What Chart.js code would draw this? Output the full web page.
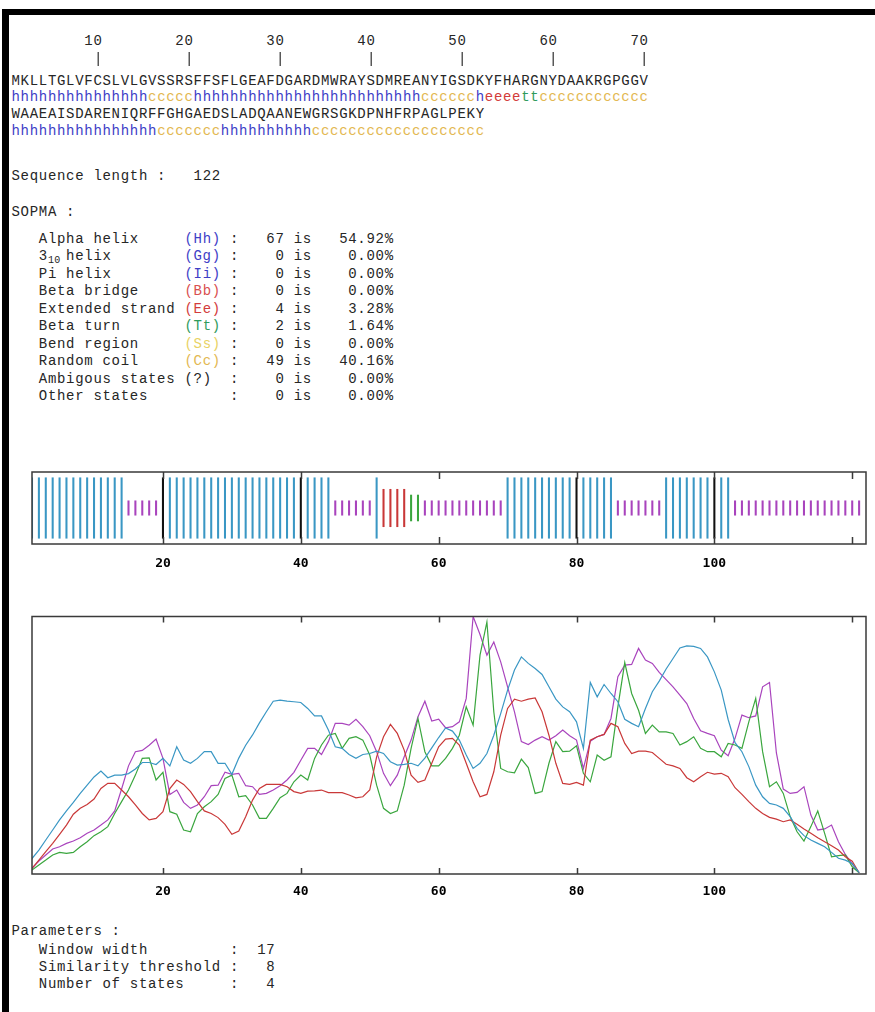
<!DOCTYPE html>
<html lang="en">
<head>
<meta charset="utf-8">
<title>SOPMA result</title>
<script src="https://cdn.jsdelivr.net/npm/chart.js@4.4.1/dist/chart.umd.min.js"></script>
<style>
  html, body { margin: 0; padding: 0; background: #fff; }
  #page { position: relative; width: 875px; height: 1012px; overflow: hidden; }
  .edge { position: absolute; background: #000; }
  .ln {
    position: absolute; left: 11.5px; margin: 0; white-space: pre;
    font-family: "Liberation Mono", "DejaVu Sans Mono", monospace;
    font-size: 14px; letter-spacing: 0.7px; line-height: 17px; color: #262626;
  }
  #rulerBars { will-change: transform; }
  .sub { display: inline-block; width: 18.2px; font-size: 10px; letter-spacing: 0.3px; position: relative; top: 3px; }
  .H { color: #3e3ec6; } .B { color: #d9504f; } .E { color: #d33c3c; }
  .T { color: #2f9b5c; } .S { color: #e8d264; } .C { color: #e3b852; }
  canvas { position: absolute; left: 0; }
</style>
</head>
<body>
<div id="page">
  <div class="edge" style="left:2px;top:9px;width:873px;height:6px"></div>
  <div class="edge" style="left:2px;top:9px;width:7px;height:1003px"></div>

  <div class="ln" id="ruler" style="top:32.8px"></div>
  <div class="ln" id="rulerBars" style="top:50.8px"></div>
  <div class="ln" id="seq1" style="top:72.5px"></div>
  <div class="ln" id="str1" style="top:89.1px"></div>
  <div class="ln" id="seq2" style="top:105.8px"></div>
  <div class="ln" id="str2" style="top:122.5px"></div>

  <div class="ln" style="top:167.8px">Sequence length :   122</div>
  <div class="ln" style="top:204.3px">SOPMA :</div>
  <div class="ln" style="top:230.8px">   Alpha helix     <span class="H">(Hh)</span> :   67 is   54.92%</div>
  <div class="ln" style="top:248.3px">   3<span class="sub">10</span>helix        <span class="H">(Gg)</span> :    0 is    0.00%</div>
  <div class="ln" style="top:265.8px">   Pi helix        <span class="H">(Ii)</span> :    0 is    0.00%</div>
  <div class="ln" style="top:283.3px">   Beta bridge     <span class="B">(Bb)</span> :    0 is    0.00%</div>
  <div class="ln" style="top:300.8px">   Extended strand <span class="E">(Ee)</span> :    4 is    3.28%</div>
  <div class="ln" style="top:318.3px">   Beta turn       <span class="T">(Tt)</span> :    2 is    1.64%</div>
  <div class="ln" style="top:335.8px">   Bend region     <span class="S">(Ss)</span> :    0 is    0.00%</div>
  <div class="ln" style="top:353.3px">   Random coil     <span class="C">(Cc)</span> :   49 is   40.16%</div>
  <div class="ln" style="top:370.8px">   Ambigous states (?)  :    0 is    0.00%</div>
  <div class="ln" style="top:388.3px">   Other states         :    0 is    0.00%</div>

  <canvas id="bars" width="875" height="110" style="top:462px"></canvas>
  <canvas id="profile" width="875" height="300" style="top:606px"></canvas>

  <div class="ln" style="top:922.8px">Parameters :</div>
  <div class="ln" style="top:941.8px">   Window width         :  17</div>
  <div class="ln" style="top:959.3px">   Similarity threshold :   8</div>
  <div class="ln" style="top:976.3px">   Number of states     :   4</div>
</div>

<script>
  // protein sequence and SOPMA prediction (runs of h/c/e/t)
  const sequence = 'MKLLTGLVFCSLVLGVSSRSFFSFLGEAFDGARDMWRAYSDMREANYIGSDKYFHARGNYDAAKRGPGGV' +
    'WAAEAISDARENIQRFFGHGAEDSLADQAANEWGRSGKDPNHFRPAGLPEKY';
  const structureRuns = [
    ['h', 15], ['c', 5], ['h', 25], ['c', 6], ['h', 1], ['e', 4], ['t', 2], ['c', 12],
    ['h', 16], ['c', 7], ['h', 10], ['c', 19]
  ];
  const rulerNumbers = [10, 20, 30, 40, 50, 60, 70];

  // score profiles, one value per residue (residue 1 first)
  const helixScore = [
    0.03, 0.06, 0.093, 0.132, 0.171, 0.21, 0.245, 0.278, 0.313, 0.345, 0.377,
    0.40, 0.374, 0.384, 0.384, 0.39, 0.408, 0.433, 0.433, 0.425, 0.449,
    0.42, 0.494, 0.443, 0.43, 0.449, 0.475, 0.475, 0.43, 0.43, 0.387,
    0.45, 0.50, 0.54, 0.587, 0.63, 0.671, 0.675, 0.671, 0.669, 0.666,
    0.643, 0.614, 0.614, 0.559, 0.494, 0.488, 0.464, 0.449, 0.464, 0.468,
    0.477, 0.468, 0.436, 0.423, 0.426, 0.43, 0.42, 0.45, 0.49, 0.53,
    0.567, 0.555, 0.52, 0.462, 0.41, 0.43, 0.468, 0.539, 0.623, 0.714,
    0.792, 0.843, 0.818, 0.798, 0.775, 0.727, 0.679, 0.649, 0.63, 0.591,
    0.488, 0.744, 0.688, 0.736, 0.701, 0.669, 0.601, 0.585, 0.572, 0.643,
    0.708, 0.749, 0.796, 0.837, 0.878, 0.886, 0.884, 0.876, 0.843, 0.785,
    0.714, 0.60, 0.51, 0.475, 0.417, 0.345, 0.30, 0.274, 0.268, 0.255,
    0.223, 0.177, 0.149, 0.132, 0.119, 0.106, 0.084, 0.061, 0.054, 0.041, 0.005
  ];
  const strandScore = [
    0.0, 0.022, 0.054, 0.087, 0.119, 0.154, 0.19, 0.232, 0.255, 0.27, 0.291,
    0.332, 0.352, 0.352, 0.326, 0.30, 0.268, 0.235, 0.21, 0.216, 0.242,
    0.332, 0.365, 0.348, 0.32, 0.281, 0.245, 0.235, 0.219, 0.193, 0.154,
    0.167, 0.222, 0.287, 0.332, 0.348, 0.348, 0.348, 0.339, 0.32, 0.313,
    0.322, 0.323, 0.326, 0.316, 0.316, 0.316, 0.307, 0.296, 0.30, 0.326,
    0.455, 0.533, 0.581, 0.546, 0.481, 0.384, 0.356, 0.365, 0.43, 0.494,
    0.524, 0.527, 0.501, 0.43, 0.358, 0.30, 0.309, 0.397, 0.539, 0.643,
    0.679, 0.671, 0.679, 0.684, 0.63, 0.539, 0.43, 0.352, 0.348, 0.356,
    0.345, 0.52, 0.533, 0.542, 0.585, 0.572, 0.507, 0.468, 0.477, 0.477,
    0.472, 0.449, 0.426, 0.42, 0.41, 0.374, 0.358, 0.378, 0.395, 0.388,
    0.391, 0.378, 0.335, 0.309, 0.281, 0.255, 0.235, 0.22, 0.213, 0.203,
    0.21, 0.193, 0.175, 0.158, 0.141, 0.125, 0.11, 0.093, 0.067, 0.05, 0.005
  ];
  const turnScore = [
    0.0, 0.016, 0.035, 0.054, 0.074, 0.084, 0.08, 0.084, 0.106, 0.125, 0.149,
    0.164, 0.184, 0.235, 0.281, 0.326, 0.384, 0.449, 0.451, 0.365, 0.395,
    0.242, 0.232, 0.171, 0.164, 0.235, 0.261, 0.281, 0.309, 0.371, 0.384,
    0.30, 0.304, 0.268, 0.216, 0.216, 0.255, 0.296, 0.313, 0.358, 0.384,
    0.365, 0.449, 0.501, 0.539, 0.546, 0.488, 0.527, 0.533, 0.52, 0.462,
    0.345, 0.255, 0.235, 0.245, 0.345, 0.488, 0.604, 0.475, 0.42, 0.42,
    0.449, 0.488, 0.539, 0.649, 0.578, 0.85, 0.979, 0.63, 0.41, 0.397,
    0.393, 0.446, 0.413, 0.313, 0.32, 0.43, 0.514, 0.475, 0.477, 0.498,
    0.391, 0.358, 0.462, 0.442, 0.455, 0.649, 0.821, 0.701, 0.636, 0.546,
    0.578, 0.552, 0.552, 0.546, 0.501, 0.514, 0.533, 0.488, 0.475, 0.475,
    0.455, 0.507, 0.501, 0.488, 0.591, 0.682, 0.475, 0.339, 0.358, 0.313,
    0.223, 0.164, 0.128, 0.184, 0.245, 0.158, 0.067, 0.071, 0.074, 0.028, 0.005
  ];
  const coilScore = [
    0.0, 0.022, 0.05, 0.074, 0.097, 0.106, 0.119, 0.128, 0.141, 0.158, 0.171,
    0.19, 0.21, 0.245, 0.33, 0.42, 0.475, 0.48, 0.50, 0.524, 0.449,
    0.309, 0.326, 0.278, 0.255, 0.268, 0.30, 0.343, 0.345, 0.395, 0.387,
    0.391, 0.343, 0.339, 0.309, 0.313, 0.326, 0.343, 0.365, 0.395, 0.442,
    0.488, 0.488, 0.464, 0.514, 0.585, 0.585, 0.578, 0.601, 0.572, 0.537,
    0.475, 0.391, 0.343, 0.384, 0.455, 0.52, 0.611, 0.671, 0.594, 0.601,
    0.568, 0.572, 0.591, 0.682, 1.0, 0.93, 0.85, 0.901, 0.824, 0.727,
    0.63, 0.514, 0.503, 0.52, 0.533, 0.52, 0.537, 0.559, 0.537, 0.52,
    0.41, 0.516, 0.533, 0.542, 0.604, 0.766, 0.811, 0.814, 0.876, 0.831,
    0.818, 0.783, 0.755, 0.727, 0.695, 0.662, 0.604, 0.556, 0.546, 0.537,
    0.481, 0.459, 0.527, 0.617, 0.607, 0.614, 0.727, 0.744, 0.47, 0.33,
    0.313, 0.317, 0.339, 0.229, 0.171, 0.175, 0.19, 0.125, 0.076, 0.038, 0.005
  ];

  const tickValues = [20, 40, 60, 80, 100, 120];
  const tickLabels = ['20', '40', '60', '80', '100', ''];

  // styles
  const textColour = { h: '#3e3ec6', c: '#e3b852', e: '#d33c3c', t: '#2f9b5c' };
  const markColour = { h: '#3a97c4', e: '#c93838', t: '#3aa63e', c: '#a944bd' };
  const markHalfHeight = { h: 0.84, e: 0.52, t: 0.36, c: 0.2 };

  const structure = structureRuns.map(([s, n]) => s.repeat(n)).join('');

  // text part
  function colourRuns(str) {
    let html = '';
    let i = 0;
    while (i < str.length) {
      let j = i;
      while (j < str.length && str[j] === str[i]) j++;
      html += '<span style="color:' + textColour[str[i]] + '">' + str.slice(i, j) + '</span>';
      i = j;
    }
    return html;
  }
  document.getElementById('ruler').textContent = rulerNumbers.map(n => String(n).padStart(10)).join('');
  document.getElementById('rulerBars').textContent = rulerNumbers.map(() => '|'.padStart(10)).join('');
  document.getElementById('seq1').textContent = sequence.slice(0, 70);
  document.getElementById('seq2').textContent = sequence.slice(70);
  document.getElementById('str1').innerHTML = colourRuns(structure.slice(0, 70));
  document.getElementById('str2').innerHTML = colourRuns(structure.slice(70));

  // frame + inward ticks
  const framePlugin = {
    id: 'frame',
    afterDraw(chart, args, opts) {
      const { ctx, chartArea: a } = chart;
      const x = chart.scales.x;
      ctx.save();
      ctx.strokeStyle = '#3a3a3a';
      ctx.lineWidth = 1.5;
      ctx.strokeRect(a.left, a.top, a.right - a.left, a.bottom - a.top);
      x.ticks.forEach(t => {
        const px = Math.round(x.getPixelForValue(t.value)) + 0.5;
        ctx.beginPath();
        ctx.moveTo(px, a.top);
        ctx.lineTo(px, a.top + opts.tickLen);
        ctx.moveTo(px, a.bottom);
        ctx.lineTo(px, a.bottom - opts.tickLen);
        ctx.stroke();
      });
      ctx.restore();
    }
  };

  function xAxis(height, padding) {
    return {
      type: 'linear',
      min: 1,
      max: 122,
      offset: false,
      grid: { display: false, drawTicks: false, offset: false },
      border: { display: false },
      afterBuildTicks: scale => { scale.ticks = tickValues.map(v => ({ value: v })); },
      afterFit: scale => { scale.height = height; },
      ticks: {
        autoSkip: false,
        maxRotation: 0,
        padding: padding,
        color: '#000',
        font: { family: 'DejaVu Sans Mono', size: 13, weight: 'bold' },
        callback: v => tickLabels[tickValues.indexOf(v)]
      }
    };
  }

  // structure bars
  const states = ['h', 'e', 't', 'c'];
  new Chart(document.getElementById('bars'), {
    type: 'bar',
    data: {
      datasets: states.map(s => ({
        label: s,
        data: structure.split('').map((ch, i) => ch === s ? { x: i, y: [-markHalfHeight[s], markHalfHeight[s]] } : null)
          .filter(Boolean),
        backgroundColor: ctx => (s === 'h' && ctx.raw && tickValues.includes(ctx.raw.x)) ? '#111' : markColour[s],
        barThickness: 1.4,
        grouped: false,
        borderWidth: 0
      }))
    },
    options: {
      responsive: false,
      animation: false,
      devicePixelRatio: 1,
      layout: { padding: { left: 32, right: 9, top: 10, bottom: 0 } },
      plugins: { legend: { display: false }, tooltip: { enabled: false }, frame: { tickLen: 7 } },
      scales: {
        x: xAxis(28, 11.5),
        y: { display: false, min: -1, max: 1 }
      }
    },
    plugins: [framePlugin]
  });

  // score profiles
  const profiles = [
    { name: 'helix', values: helixScore, colour: markColour.h },
    { name: 'strand', values: strandScore, colour: markColour.e },
    { name: 'turn', values: turnScore, colour: markColour.t },
    { name: 'coil', values: coilScore, colour: markColour.c }
  ];
  new Chart(document.getElementById('profile'), {
    type: 'line',
    data: {
      datasets: profiles.map(p => ({
        label: p.name,
        data: p.values.map((v, i) => ({ x: i, y: v })),
        borderColor: p.colour,
        borderWidth: 1.2,
        pointRadius: 0,
        tension: 0,
        fill: false
      }))
    },
    options: {
      responsive: false,
      animation: false,
      devicePixelRatio: 1,
      layout: { padding: { left: 32, right: 9, top: 10.5, bottom: 0 } },
      plugins: { legend: { display: false }, tooltip: { enabled: false }, frame: { tickLen: 6 } },
      scales: {
        x: xAxis(32, 9.7),
        y: { display: false, min: 0, max: 1 }
      }
    },
    plugins: [framePlugin]
  });
</script>
</body>
</html>
